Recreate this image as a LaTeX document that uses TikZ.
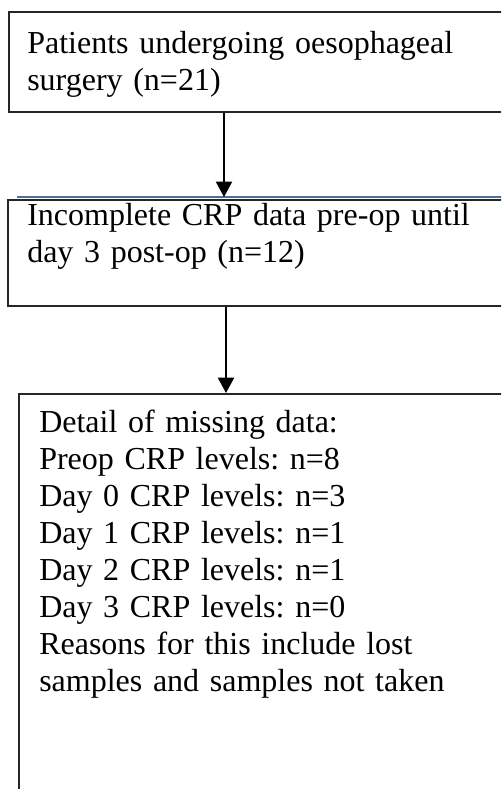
\documentclass[tikz,border=0pt]{standalone}
\usepackage{fontspec}
\setmainfont{Liberation Serif}
\usetikzlibrary{arrows.meta,calc}
\definecolor{rulebl}{RGB}{79,110,154}
\begin{document}
\begin{tikzpicture}[x=0.75pt,y=-0.75pt,
  box/.style={draw=black!85, line width=1.2pt, rectangle, inner sep=0pt, anchor=north west},
  txt/.style={anchor=base west, inner sep=0pt, text width=360pt, align=left,
              font=\fontsize{24}{27.75}\selectfont\frenchspacing},
  flow/.style={line width=1.6pt, -{Triangle[width=12pt,length=11.5pt]}}]
\useasboundingbox (0,0) rectangle (501,789);
\clip (0,0) rectangle (501,789);

% boxes (they run past the right and bottom edges)
\node[box, minimum width=420pt, minimum height=75pt] (b1) at (8,11) {};
\node[box, minimum width=420pt, minimum height=79.5pt] (b2) at (7,199) {};
\node[box, minimum width=420pt, minimum height=310pt] (b3) at (18,393) {};

% thin blue rule over the second box
\draw[rulebl, line width=1.2pt] ($(b2.north west)+(10,-2)$) -- ++(560,0);

% texts
\node[txt] (t1) at (27,53) {Patients undergoing oesophageal\\surgery (n=21)};
\node[txt] (t2) at (27,225) {Incomplete CRP data pre-op until\\day 3 post-op (n=12)};
\node[txt] (t3) at (39,432) {Detail of missing data:\\
Preop CRP levels: n=8\\
Day 0 CRP levels: n=3\\
Day 1 CRP levels: n=1\\
Day 2 CRP levels: n=1\\
Day 3 CRP levels: n=0\\
Reasons for this include lost\\
samples and samples not taken};

% connectors
\draw[flow] ($(b1.south west)+(216,0)$) -- ($(b2.north west)+(217,-2)$);
\draw[flow] ($(b2.south west)+(219,0)$) -- ($(b3.north west)+(208,0)$);
\end{tikzpicture}
\end{document}
